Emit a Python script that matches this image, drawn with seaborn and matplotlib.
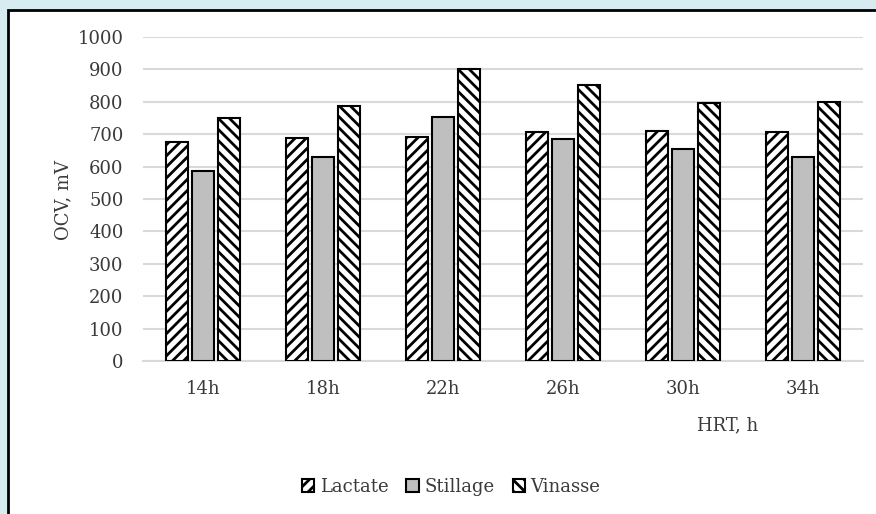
import matplotlib
matplotlib.use("Agg")
import matplotlib.pyplot as plt
from matplotlib.patches import Rectangle, Patch
import seaborn as sns
import pandas as pd

# values
hrt = ["14h", "18h", "22h", "26h", "30h", "34h"]
lactate = [677, 688, 690, 706, 710, 706]
stillage = [586, 630, 753, 685, 655, 630]
vinasse = [750, 787, 901, 852, 795, 800]
series = ["Lactate", "Stillage", "Vinasse"]

df = pd.DataFrame({"HRT": hrt * 3,
                   "OCV": lactate + stillage + vinasse,
                   "Substrate": [s for s in series for _ in hrt]})

sns.set_theme(style="white")
plt.rcParams["font.family"] = ["DejaVu Serif"]
plt.rcParams["hatch.linewidth"] = 2.0

fig = plt.figure(figsize=(8.76, 5.14), dpi=100)
fig.patch.set_facecolor("#d6ecf1")
# white panel with black border, behind everything
panel = Rectangle((8 / 876, -0.1), 1.1, 1 - 10 / 514 + 0.1, transform=fig.transFigure,
                  facecolor="white", edgecolor="black", linewidth=2, zorder=-10)
fig.patches.append(panel)

ax = fig.add_axes([143 / 876, 1 - 361 / 514, 720 / 876, 324 / 514])
ax.set_facecolor("none")
ax.set_zorder(1)

colors = {"Lactate": "white", "Stillage": "#bfbfbf", "Vinasse": "white"}
hatches = {"Lactate": "///", "Stillage": "", "Vinasse": "\\\\\\"}

sns.barplot(data=df, x="HRT", y="OCV", hue="Substrate", palette=colors,
            width=0.66, gap=0.17, edgecolor="black", linewidth=1.5,
            legend=False, ax=ax, zorder=3)

for cont, name in zip(ax.containers, series):
    for bar in cont:
        bar.set_hatch(hatches[name])
        bar.set_edgecolor("black")

ax.set_ylim(0, 1000)
ax.set_xlim(-0.5, 5.5)
ax.set_yticks(range(0, 1001, 100))
ax.yaxis.grid(True, color="#d9d9d9", linewidth=1.5, zorder=0)
ax.set_axisbelow(True)
for s in ["top", "right", "left"]:
    ax.spines[s].set_visible(False)
ax.spines["bottom"].set_color("#d9d9d9")
ax.spines["bottom"].set_linewidth(1.5)
ax.tick_params(axis="y", length=0, pad=14, labelsize=13, labelcolor="#3a3a3a")
ax.tick_params(axis="x", length=0, pad=14, labelsize=13, labelcolor="#3a3a3a")
ax.set_xlabel("")
ax.set_ylabel("")

fig.text(63 / 876, 1 - 200 / 514, "OCV, mV", rotation=90, ha="center", va="center",
         fontsize=13, color="#3a3a3a")
fig.text(728 / 876, 1 - 425 / 514, "HRT, h", ha="center", va="center",
         fontsize=13, color="#3a3a3a")

handles = [Patch(facecolor=colors[s], edgecolor="black", hatch=hatches[s], linewidth=1.5)
           for s in series]
leg = fig.legend(handles, series, loc="center", bbox_to_anchor=(451 / 876, 1 - 487 / 514),
                 ncol=3, frameon=False, fontsize=13, handlelength=0.7, handleheight=0.7,
                 handletextpad=0.3, columnspacing=1.0)
for t in leg.get_texts():
    t.set_color("#3a3a3a")

fig.savefig("out.png", dpi=100, facecolor=fig.get_facecolor())
